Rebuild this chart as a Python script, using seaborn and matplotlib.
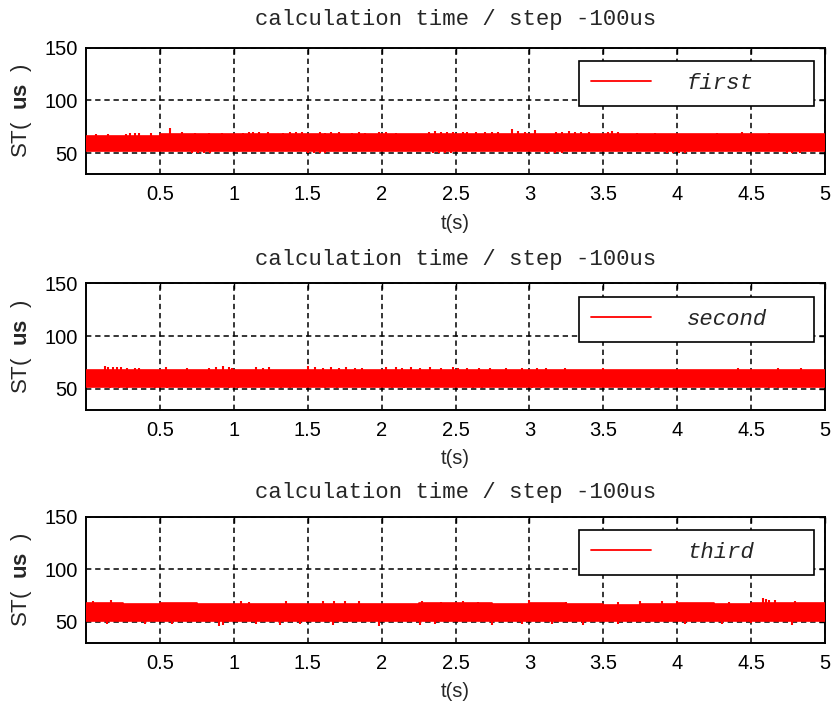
import matplotlib
matplotlib.use('Agg')
import matplotlib.pyplot as plt
import seaborn as sns
import numpy as np
import pandas as pd

# Edges of the 0.25 s segments used for the band envelope
seg_t = np.arange(0, 5.01, 0.25)

# ---------- panel 1: first ----------
first_upper = [66, 66.5, 68, 68, 68, 68, 68, 68, 68, 68,
               68, 68, 68, 68, 68, 68, 68, 68, 68, 68]
first_lower = [52, 52, 52, 52, 52, 52, 52, 52, 52, 52,
               52, 52, 52, 52, 52, 52, 52, 52, 52, 52]
first_spike_t = [0.07, 0.15, 0.27, 0.30, 0.33, 0.36, 0.44, 0.57, 0.65, 0.74,
                 0.83, 0.92, 1.06, 1.10, 1.13, 1.17, 1.23, 1.33, 1.38, 1.42,
                 1.46, 1.58, 1.62, 1.66, 1.71, 1.80, 1.85, 1.89, 1.98, 2.03,
                 2.10, 2.32, 2.36, 2.40, 2.44, 2.48, 2.55, 2.58, 2.64, 2.70,
                 2.75, 2.79, 2.88, 2.92, 2.97, 3.04, 3.18, 3.22, 3.27, 3.31,
                 3.35, 3.40, 3.53, 3.56, 3.60, 3.73, 3.85, 4.27, 4.44, 4.62]
first_spike_v = [68.5, 68, 68.5, 69, 69, 69.5, 69, 73.5, 70, 69.5,
                 69.5, 69.5, 69.5, 70, 70, 70.5, 70, 69.5, 70, 70,
                 70.5, 70, 69.5, 70.5, 70, 69.5, 70, 69.5, 70, 70,
                 69.5, 70, 71, 70.5, 70, 70.5, 70.5, 70, 70.5, 70,
                 70.5, 70, 72.5, 71, 70.5, 71.5, 70.5, 70.5, 71, 70.5,
                 70, 70.5, 70.5, 71, 70, 69.5, 69.5, 69.5, 70, 69.5]
first_dip_t = [0.72, 0.76, 0.80, 0.84, 1.50, 1.54, 1.58, 1.62, 2.35, 2.39,
               2.43, 2.47, 3.12, 3.17, 3.22, 3.93, 3.97, 4.01, 4.05, 4.74,
               4.78, 4.83]
first_dip_v = [50.5, 50.5, 50.5, 50.5, 50.5, 50.5, 50.5, 50.5, 50.5, 50.5,
               50.5, 50.5, 50.5, 50.5, 50.5, 50.5, 50.5, 50.5, 50.5, 50.5,
               50.5, 50.5]

# ---------- panel 2: second ----------
second_upper = [67.5, 67.5, 67.5, 67.5, 67.5, 67.5, 67.5, 67.5, 67.5, 67.5,
                67.5, 67.5, 67.5, 67.5, 67.5, 67.5, 67.5, 67.5, 67.5, 67.5]
second_lower = [52, 52, 52, 52, 52, 52, 52, 52, 52, 52,
                52, 52, 52, 52, 52, 52, 52, 52, 52, 52]
second_spike_t = [0.13, 0.15, 0.18, 0.21, 0.24, 0.28, 0.33, 0.36, 0.54, 0.68,
                  0.83, 0.88, 0.93, 0.97, 0.99, 1.15, 1.20, 1.24, 1.50, 1.55,
                  1.60, 1.66, 1.71, 1.76, 1.82, 1.87, 2.03, 2.10, 2.14, 2.20,
                  2.26, 2.33, 2.40, 2.48, 2.52, 2.58, 2.66, 2.73, 2.84, 2.95,
                  3.05, 3.11, 3.24, 3.50, 4.41, 4.68, 4.84]
second_spike_v = [71.5, 71, 71, 70.5, 70.5, 70, 70, 70, 70.5, 69.5,
                  70, 70.5, 71.5, 70.5, 70, 70.5, 70, 70.5, 71.5, 70.5,
                  70, 70.5, 70, 70.5, 70, 70, 70.5, 71, 70, 70.5,
                  70, 70.5, 70, 70.5, 70, 69.5, 69.5, 69.5, 69.5, 69.5,
                  69.5, 69.5, 69.5, 70, 69.5, 70, 69.5]
second_dip_t = [0.16, 0.22, 0.28, 0.47, 0.55, 0.97, 1.03, 1.32, 1.38, 1.62,
                1.70, 2.07, 2.15, 2.62, 2.68, 3.02, 3.08, 3.82, 3.88, 4.62,
                4.68]
second_dip_v = [50.5, 50.5, 50.5, 50.5, 50.5, 50.5, 50.5, 50.5, 50.5, 50.5,
                50.5, 50.5, 50.5, 50.5, 50.5, 50.5, 50.5, 50.5, 50.5, 50.5,
                50.5]

# ---------- panel 3: third ----------
third_upper = [68, 66.5, 68, 66.5, 66.5, 67, 67, 67, 67, 67.5,
               67.5, 67, 67.5, 67, 66, 67, 67.5, 67, 68, 68]
third_lower = [51, 51, 51, 51, 51, 51, 51, 51, 51, 51,
               51, 51, 51, 51, 51, 51, 51, 51, 51, 51]
third_spike_t = [0.05, 0.17, 1.05, 1.10, 1.35, 1.60, 1.68, 1.75, 1.85, 2.27,
                 2.40, 2.55, 2.65, 3.00, 3.25, 3.60, 3.75, 3.90, 4.00, 4.35,
                 4.58, 4.60, 4.62, 4.66, 4.80]
third_spike_v = [69.5, 70.5, 69.5, 69, 69.5, 70, 69.5, 69.5, 69.5, 69.5,
                 69, 69.5, 69, 71, 69, 69, 69.5, 69.5, 69.5, 69,
                 72.5, 72, 71, 70.5, 69.5]
third_dip_t = [0.14, 0.40, 0.58, 0.90, 0.93, 1.15, 1.31, 1.45, 1.67, 1.98,
               2.26, 2.36, 2.75, 2.95, 3.15, 3.36, 3.60, 4.05, 4.30, 4.50,
               4.78]
third_dip_v = [47.5, 48, 47.5, 45.5, 46.5, 48, 47, 48, 47, 45.5,
               47, 47.5, 47, 48, 48, 46.5, 48, 47.5, 48, 48.5,
               47]

panels = [
    ('first', first_upper, first_lower, first_spike_t, first_spike_v, first_dip_t, first_dip_v),
    ('second', second_upper, second_lower, second_spike_t, second_spike_v, second_dip_t, second_dip_v),
    ('third', third_upper, third_lower, third_spike_t, third_spike_v, third_dip_t, third_dip_v),
]

title_text = 'calculation time / step -100us'
x_ticks = [0.5, 1, 1.5, 2, 2.5, 3, 3.5, 4, 4.5, 5]
x_ticklabels = ['0.5', '1', '1.5', '2', '2.5', '3', '3.5', '4', '4.5', '5']
y_ticks = [50, 100, 150]

# Style
sns.set_style('white')
plt.rcParams['font.family'] = ['Liberation Sans', 'DejaVu Sans']
plt.rcParams['mathtext.fontset'] = 'custom'
plt.rcParams['mathtext.bf'] = 'Liberation Sans:bold'
plt.rcParams['mathtext.rm'] = 'Liberation Sans'

fig = plt.figure(figsize=(8.32, 7.09), dpi=100)

# axes boxes in figure fraction (left, bottom, width, height)
boxes = [
    (0.1034, 0.7542, 0.8882, 0.1786),
    (0.1034, 0.4217, 0.8882, 0.1787),
    (0.1034, 0.0935, 0.8882, 0.1778),
]
title_pads = [16.5, 13, 13.5]

red = '#ff0000'

for (name, upper, lower, sp_t, sp_v, dp_t, dp_v), box, tpad in zip(panels, boxes, title_pads):
    ax = fig.add_axes(box)

    up_ext = list(upper) + [upper[-1]]
    lo_ext = list(lower) + [lower[-1]]
    ax.fill_between(seg_t, lo_ext, up_ext, step='post', color=red, lw=0, zorder=3)

    edges = pd.DataFrame({'t': seg_t, 'upper': up_ext, 'lower': lo_ext})
    sns.lineplot(data=edges, x='t', y='upper', color=red, lw=1.2,
                 drawstyle='steps-post', label=name, ax=ax, zorder=4)
    sns.lineplot(data=edges, x='t', y='lower', color=red, lw=1.2,
                 drawstyle='steps-post', ax=ax, zorder=4)

    # short spikes above and below the band
    ax.vlines(sp_t, 60, sp_v, color=red, lw=1.5, zorder=4)
    ax.vlines(dp_t, 60, dp_v, color=red, lw=1.5, zorder=4)

    ax.set_xlim(0, 5)
    ax.set_ylim(30, 150)
    ax.set_xticks(x_ticks)
    ax.set_xticklabels(x_ticklabels)
    ax.set_yticks(y_ticks)

    ax.grid(True, color='black', linestyle=(0, (3.5, 2.5)), linewidth=1.1, zorder=2)
    ax.set_axisbelow(True)
    for sp in ax.spines.values():
        sp.set_color('black')
        sp.set_linewidth(1.4)
        sp.set_visible(True)

    ax.tick_params(direction='in', length=4, width=1, top=True, right=True,
                   labelsize=14.5, colors='black')
    ax.tick_params(axis='x', pad=8)
    ax.tick_params(axis='y', pad=6)

    ax.set_title(title_text, fontsize=16, family='Liberation Mono', pad=tpad)
    ax.set_xlabel('t(s)', fontsize=14.5)
    ax.xaxis.set_label_coords(0.5, -0.31)
    ax.set_ylabel(r'ST(  $\mathbf{us}$  )', fontsize=16)
    ax.yaxis.set_label_coords(-0.07, 0.5)

    leg = ax.legend(loc='upper left', bbox_to_anchor=(0.667, 0.0, 0.318, 0.895),
                    mode='expand', borderaxespad=0, fancybox=False,
                    edgecolor='black', framealpha=1, handlelength=2.7,
                    handletextpad=1.6, borderpad=0.55,
                    prop={'family': 'Liberation Mono', 'style': 'italic', 'size': 16})
    leg.get_frame().set_linewidth(1.2)
    leg.set_zorder(10)
    for h in leg.get_lines():
        h.set_linewidth(1.3)

fig.savefig('out.png', dpi=100)
